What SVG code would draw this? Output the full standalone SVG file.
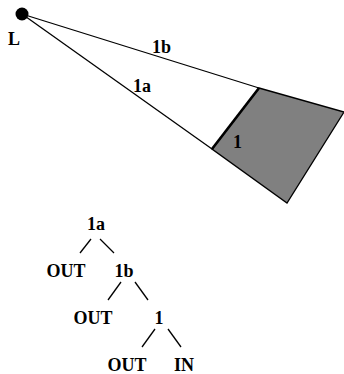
<svg xmlns="http://www.w3.org/2000/svg" width="344" height="374" viewBox="0 0 344 374">
<style>
text{font-family:"Liberation Serif","Times New Roman",serif;font-weight:bold;font-size:18px;fill:#000}
.ln{stroke:#000;stroke-width:1.3;fill:none}
</style>
<rect width="344" height="374" fill="#fff"/>
<g id="region">
<polygon points="259,88 344,112 287,203 212,149" fill="#808080" stroke="#000" stroke-width="1.3"/>
<line x1="212" y1="149" x2="259" y2="88" stroke="#000" stroke-width="2.6"/>
</g>
<g id="connectors">
<line class="ln" x1="22" y1="14" x2="259" y2="88"/>
<line class="ln" x1="22" y1="14" x2="212" y2="149"/>
<line class="ln" x1="91" y1="239" x2="80" y2="253"/>
<line class="ln" x1="100" y1="239" x2="114" y2="253"/>
<line class="ln" x1="121" y1="282" x2="108" y2="300"/>
<line class="ln" x1="135" y1="282" x2="148" y2="300"/>
<line class="ln" x1="155" y1="329" x2="142" y2="347"/>
<line class="ln" x1="168" y1="329" x2="181" y2="347"/>
</g>
<g id="light">
<circle cx="22" cy="14" r="6.5" fill="#000"/>
<text x="8" y="45">L</text>
</g>
<g id="labels">
<text x="152" y="53">1b</text>
<text x="133" y="92">1a</text>
<text x="233" y="148">1</text>
</g>
<g id="n1a"><text x="96" y="230" text-anchor="middle">1a</text></g>
<g id="nout1"><text x="66" y="277" text-anchor="middle">OUT</text></g>
<g id="n1b"><text x="124" y="277" text-anchor="middle">1b</text></g>
<g id="nout2"><text x="93" y="324" text-anchor="middle">OUT</text></g>
<g id="n1"><text x="159" y="324" text-anchor="middle">1</text></g>
<g id="nout3"><text x="127" y="371" text-anchor="middle">OUT</text></g>
<g id="nin"><text x="184" y="371" text-anchor="middle">IN</text></g>
</svg>
